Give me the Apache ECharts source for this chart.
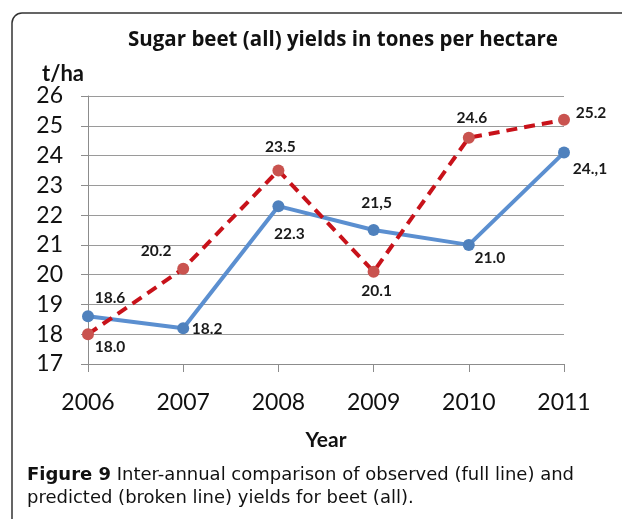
<!DOCTYPE html>
<html>
<head>
<meta charset="utf-8">
<script src="https://cdn.jsdelivr.net/npm/echarts@6/dist/echarts.min.js"></script>
<style>
html,body{margin:0;padding:0;background:#fff;}
#chart{width:622px;height:519px;}
</style>
</head>
<body>
<div id="chart"></div>
<script>
var years = ['2006','2007','2008','2009','2010','2011'];
var observed = [18.6, 18.2, 22.3, 21.5, 21.0, 24.1];
var predicted = [18.0, 20.2, 23.5, 20.1, 24.6, 25.2];
var observedLabels = ['18.6','18.2','22.3','21,5','21.0','24.,1'];
var predictedLabels = ['18.0','20.2','23.5','20.1','24.6','25.2'];
var yTicks = {min: 17, max: 26, interval: 1};

var chartTitle = 'Sugar beet (all) yields in tones per hectare';
var yUnit = 't/ha';
var xName = 'Year';
var captionBold = 'Figure 9';
var captionText = ' Inter-annual comparison of observed (full line) and\npredicted (broken line) yields for beet (all).';

var obsOffsets = [[22,-18],[24,1],[11,28],[3,-27],[21,13],[26,16]];
var predOffsets = [[22,13],[-27,-18],[2,-23],[3,19],[3,-20],[27,-7]];

var labelFont = {fontFamily:'Lato', fontWeight:'bold', fontSize:15.5, color:'#1a1a1a'};

function mk(vals, labels, offs){
  return vals.map(function(v,i){
    return {
      value: v,
      label: Object.assign({show:true, position:'inside', offset:offs[i],
        formatter: labels[i]}, labelFont)
    };
  });
}

var chart = echarts.init(document.getElementById('chart'));
chart.setOption({
  animation:false,
  backgroundColor:'#fff',
  title:[{
    text: chartTitle, left: 338, top: 25, textAlign:'center',
    textStyle:{fontFamily:'Open Sans', fontWeight:'bold', fontSize:20.5, color:'#111'}
  },{
    text: yUnit, left: 37, top: 58,
    textStyle:{fontFamily:'Lato', fontWeight:'bold', fontSize:22, color:'#111'}
  }],
  graphic:[{
    type:'rect', shape:{x:12, y:13, width:640, height:540, r:10},
    style:{fill:'none', stroke:'#333', lineWidth:1.5}
  },{
    type:'text', left:27, top:464,
    style:{
      text:'{b|' + captionBold + '}' + captionText,
      rich:{b:{fontFamily:'DejaVu Sans', fontWeight:'bold', fontSize:18, fill:'#111'}},
      fontFamily:'DejaVu Sans', fontSize:18, fill:'#111', lineHeight:23
    }
  }],
  grid:{left:88, right:58, top:96, bottom:155},
  xAxis:{
    type:'category', data:years, boundaryGap:false,
    axisLine:{show:true, lineStyle:{color:'#8c8c8c', width:1}},
    axisTick:{show:true, length:8, alignWithLabel:true, lineStyle:{color:'#8c8c8c'}},
    axisLabel:{fontFamily:'Lato', fontSize:23, color:'#111', margin:27},
    name: xName, nameLocation:'middle', nameGap:66,
    nameTextStyle:{fontFamily:'Lato', fontWeight:'bold', fontSize:21, color:'#111'}
  },
  yAxis:{
    type:'value', min:yTicks.min, max:yTicks.max, interval:yTicks.interval,
    axisLine:{show:true, lineStyle:{color:'#8c8c8c', width:1}},
    axisTick:{show:true, length:7, lineStyle:{color:'#8c8c8c'}},
    splitLine:{show:true, lineStyle:{color:'#9a9a9a', width:1}},
    axisLabel:{fontFamily:'Lato', fontSize:23, color:'#111', margin:25}
  },
  series:[{
    type:'line', data: mk(observed, observedLabels, obsOffsets),
    symbol:'circle', symbolSize:12,
    lineStyle:{color:'#5b8fd0', width:4},
    itemStyle:{color:'#4f81bd'},
    z:3
  },{
    type:'line', data: mk(predicted, predictedLabels, predOffsets),
    symbol:'circle', symbolSize:12,
    lineStyle:{color:'#c8121a', width:4, type:[11,7]},
    itemStyle:{color:'#c9534f'},
    z:4
  }]
});
</script>
</body>
</html>
